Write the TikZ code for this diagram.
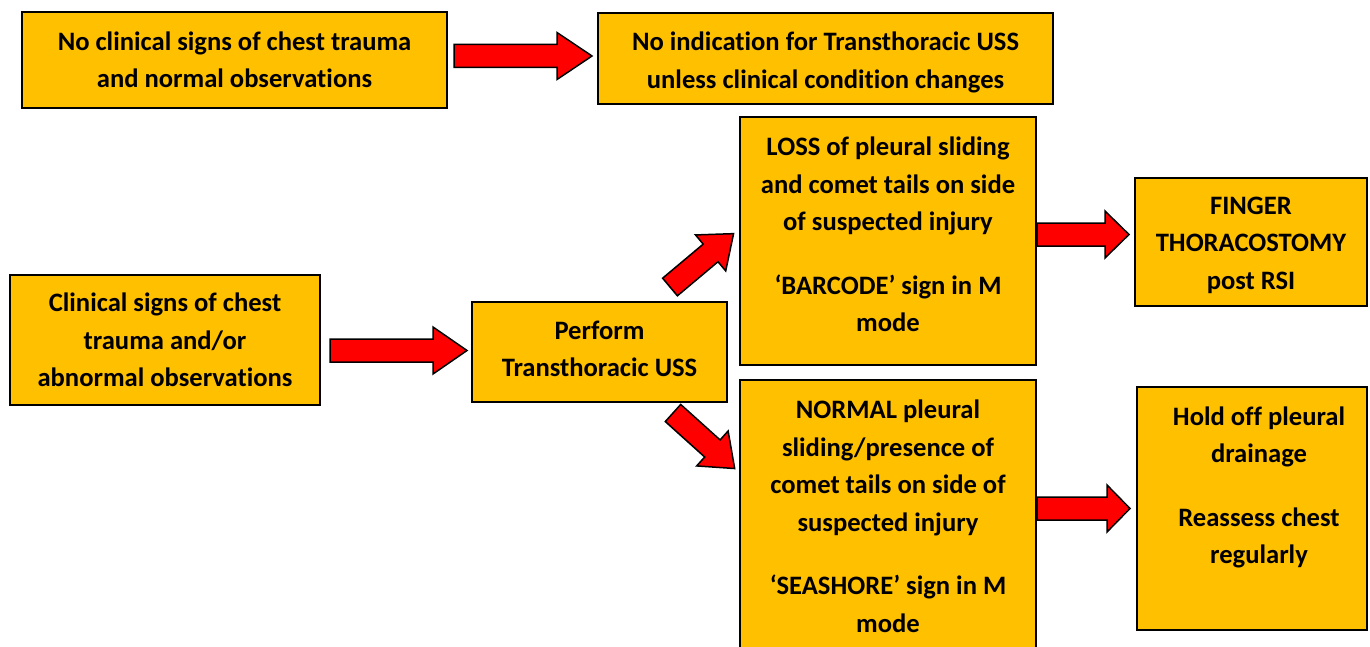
\documentclass[tikz,border=0pt]{standalone}
\usepackage{fontspec}
\setmainfont{Carlito}[RawFeature=-liga]
\usetikzlibrary{calc}
\definecolor{boxgold}{HTML}{FFC000}
\definecolor{arrred}{HTML}{FF0000}
\tikzset{
  box/.style={draw=black, line width=1.5pt, fill=boxgold, inner sep=0pt},
  txt/.style={align=center, font=\fontsize{26.6}{37.5}\selectfont\bfseries, inner sep=0pt},
  barrow/.style={draw=black, line width=1.5pt, fill=arrred, line join=miter},
}
\newcommand\blockarrow[4]{%
  \begin{scope}[shift={#1},rotate=#2]
    \draw[barrow] (0,-11.5) -- (#3-#4,-11.5) -- (#3-#4,-23.5) -- (#3,0) -- (#3-#4,23.5) -- (#3-#4,11.5) -- (0,11.5) -- cycle;
  \end{scope}}
\begin{document}
\begin{tikzpicture}[x=1pt,y=-1pt]
\clip (0,0) rectangle (1370,647);
\fill[white] (0,0) rectangle (1370,647);
% boxes
\draw[box] (22,12) rectangle (447,108) node[midway, txt] (b1) {No clinical signs of chest trauma\\and normal observations};
\draw[box] (598,13) rectangle (1053,104) node[midway, txt, yshift=-4] (b2) {No indication for Transthoracic USS\\unless clinical condition changes};
\draw[box] (10,275) rectangle (320,405) node[midway, txt] (b3) {Clinical signs of chest\\trauma and/or\\abnormal observations};
\draw[box] (472,302) rectangle (727,402) node[midway, txt, yshift=3] (b4) {Perform\\Transthoracic USS};
\draw[box] (740,117) rectangle (1036,365);
\node[txt] (b5) at (888,234.5) {LOSS of pleural sliding\\and comet tails on side\\of suspected injury\\[26pt]‘BARCODE’ sign in M\\mode};
\draw[box] (1135,178) rectangle (1367,306) node[midway, txt, yshift=-3] (b6) {FINGER\\THORACOSTOMY\\post RSI};
\draw[box] (740,380) rectangle (1036,652);
\node[txt] (b7) at (888,516.5) {NORMAL pleural\\sliding/presence of\\comet tails on side of\\suspected injury\\[26pt]‘SEASHORE’ sign in M\\mode};
\draw[box] (1137,387) rectangle (1367,630);
\node[txt] (b8) at (1259,487.5) {Hold off pleural\\drainage\\[26pt]Reassess chest\\regularly};
% arrows
\coordinate (a1) at (454,56);
\coordinate (a2) at (330,350.5);
\coordinate (a3) at (670,287);
\coordinate (a4) at (673,413);
\coordinate (a5) at (1037,234.5);
\coordinate (a6) at (1037,508.5);
\blockarrow{(a1)}{0}{138}{35}
\blockarrow{(a2)}{0}{137}{34}
\blockarrow{(a3)}{40}{83}{30}
\blockarrow{(a4)}{-42}{83}{30}
\blockarrow{(a5)}{0}{92}{24}
\blockarrow{(a6)}{0}{93}{23}
\end{tikzpicture}
\end{document}
